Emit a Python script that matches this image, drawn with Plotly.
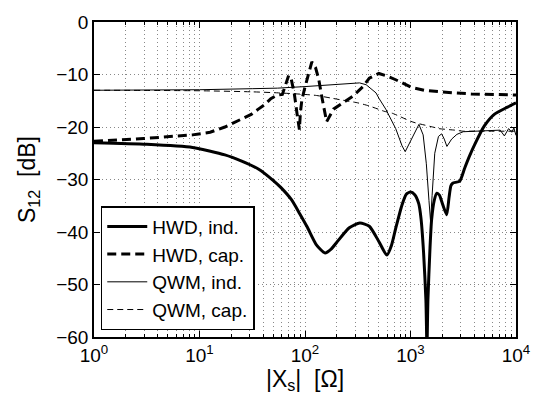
import plotly.graph_objects as go

# ---- data ----
hwd_ind_x = [1, 3.16, 8.6, 17.4, 25.1, 36.1, 50.1, 58.9, 74.1, 89.1, 104.7, 128.8, 154.9, 177.8,
             199.5, 263, 331, 407, 501, 596, 661, 724, 832, 912, 1000, 1096, 1197, 1259, 1330,
             1400, 1432, 1462, 1531, 1585, 1679, 1778, 1884, 1977, 2203, 2317, 2415, 2512, 2931,
             3266, 3631, 4046, 5012, 6223, 8318, 10000]
hwd_ind_y = [-23.0, -23.3, -23.9, -25.3, -26.5, -28.0, -30.2, -31.5, -33.8, -36.5, -39.0, -42.5,
             -44.0, -43.2, -42.0, -39.2, -38.3, -38.9, -41.8, -44.4, -42.5, -39.3, -34.8, -32.8,
             -32.4, -32.9, -34.6, -37.5, -43.9, -53.0, -62.0, -53.0, -43.0, -37.7, -34.0, -32.6,
             -33.0, -34.2, -36.7, -33.5, -31.2, -30.7, -30.3, -27.8, -25.5, -23.4, -19.8, -17.6,
             -16.2, -15.4]

hwd_cap_x = [1, 2.95, 8.6, 12.6, 17.4, 21.4, 25.1, 30.9, 36.1, 41.1, 47.4, 54.7, 61, 66.1, 70,
             74.1, 79.4, 84.1, 88.5, 90.4, 93.3, 100, 108.4, 116.1, 125.9, 134.9, 144.5, 154.9,
             160.3, 186.2, 229, 285, 355, 407, 501, 603, 724, 871, 1038, 1349, 1820, 2512, 3776,
             5623, 8318, 10000]
hwd_cap_y = [-22.7, -22.2, -21.5, -21.0, -20.0, -19.1, -18.5, -17.6, -16.6, -15.8, -14.6, -13.9,
             -13.8, -11.5, -10.2, -10.9, -13.8, -17.5, -20.5, -17.3, -14.9, -12.4, -10.0, -7.6,
             -8.7, -10.9, -14.3, -17.2, -19.0, -16.6, -15.4, -14.1, -12.3, -10.7, -9.8, -10.3,
             -11.0, -11.8, -12.5, -13.0, -13.3, -13.5, -13.7, -13.8, -13.9, -13.9]

qwm_ind_x = [1, 10, 31.6, 54.7, 100, 139, 178, 282, 329, 380, 471, 501, 583, 724, 832, 891, 955,
             1038, 1202, 1318, 1413, 1496, 1549, 1603, 1698, 1841, 1972, 2089, 2213, 2455, 2754,
             3162, 3981, 7079, 7762, 8511, 9120, 9550, 10000]
qwm_ind_y = [-13.0, -12.9, -12.7, -12.6, -12.3, -12.1, -12.0, -11.7, -11.6, -11.95, -13.5, -14.5,
             -16.6, -20.3, -23.6, -24.7, -23.5, -22.0, -19.5, -21.5, -27.0, -34.0, -38.0, -33.0,
             -25.0, -21.8, -21.3, -22.3, -23.7, -22.3, -21.4, -20.9, -20.8, -20.6, -21.7, -20.3,
             -21.0, -20.2, -21.6]

qwm_cap_x = [1, 10, 31.6, 56.2, 100, 128.8, 177.8, 229, 316, 407, 562, 676, 1000, 1112, 1778,
             1841, 2630, 3162, 4046, 10000]
qwm_cap_y = [-13.0, -13.1, -13.3, -13.5, -13.8, -14.0, -14.5, -14.9, -15.4, -16.0, -17.0, -17.4,
             -18.9, -19.2, -20.2, -20.3, -20.6, -20.8, -20.8, -20.8]

names = ["HWD, ind.", "HWD, cap.", "QWM, ind.", "QWM, cap."]
x_ticks = [1, 10, 100, 1000, 10000]
x_tick_text = ["10<sup>0</sup>", "10<sup>1</sup>", "10<sup>2</sup>", "10<sup>3</sup>", "10<sup>4</sup>"]
y_ticks = [0, -10, -20, -30, -40, -50, -60]

FONT = "Liberation Sans, Arial, Helvetica, sans-serif"

minor_vals = [m * d for d in x_ticks[:-1] for m in range(2, 10)]

fig = go.Figure()
series = [
    (hwd_ind_x, hwd_ind_y, 3, "solid", "spline"),
    (hwd_cap_x, hwd_cap_y, 3, "9px,5px", "linear"),
    (qwm_ind_x, qwm_ind_y, 1, "solid", "linear"),
    (qwm_cap_x, qwm_cap_y, 1, "6px,4px", "spline"),
]
for i, (xs, ys, w, d, sh) in enumerate(series):
    line = dict(color="black", width=w, dash=d, shape=sh)
    if sh == "spline":
        line["smoothing"] = 0.6
    fig.add_trace(go.Scatter(x=xs, y=ys, mode="lines", name=names[i], legendgroup=names[i],
                             line=line))

GRID_C = "#888"
fig.update_xaxes(type="log", range=[0, 4], tickvals=x_ticks, ticktext=x_tick_text,
                 ticks="inside", ticklen=6, tickcolor="black", showline=True, linecolor="black",
                 linewidth=1.5, mirror="allticks", zeroline=False,
                 showgrid=True, gridcolor=GRID_C, gridwidth=1, griddash="1px,3px",
                 minor=dict(tickmode="array", tickvals=minor_vals, ticks="inside", ticklen=3,
                            tickcolor="black", showgrid=True, gridcolor=GRID_C, gridwidth=1,
                            griddash="1px,3px"),
                 title=dict(text="|X<sub>s</sub>|\u00a0\u00a0[Ω]", standoff=4))
fig.update_yaxes(range=[-60, 0], tickvals=y_ticks, ticks="inside", ticklen=6, tickcolor="black",
                 showline=True, linecolor="black", linewidth=1.5, mirror="allticks",
                 zeroline=False, showgrid=True, gridcolor=GRID_C, gridwidth=1, griddash="1px,3px",
                 title=dict(text="S<sub>12</sub>\u00a0\u00a0[dB]", standoff=14))
fig.update_layout(
    width=542, height=400,
    margin=dict(l=94, r=20, t=14, b=63),
    paper_bgcolor="white", plot_bgcolor="white",
    font=dict(family=FONT, size=19, color="black"),
    showlegend=True,
    legend=dict(x=0.016, y=0.022, xanchor="left", yanchor="bottom", bgcolor="white",
                bordercolor="black", borderwidth=1.5, traceorder="grouped", tracegroupgap=0,
                itemwidth=40, font=dict(size=19)),
)
fig.write_html("out.html")
